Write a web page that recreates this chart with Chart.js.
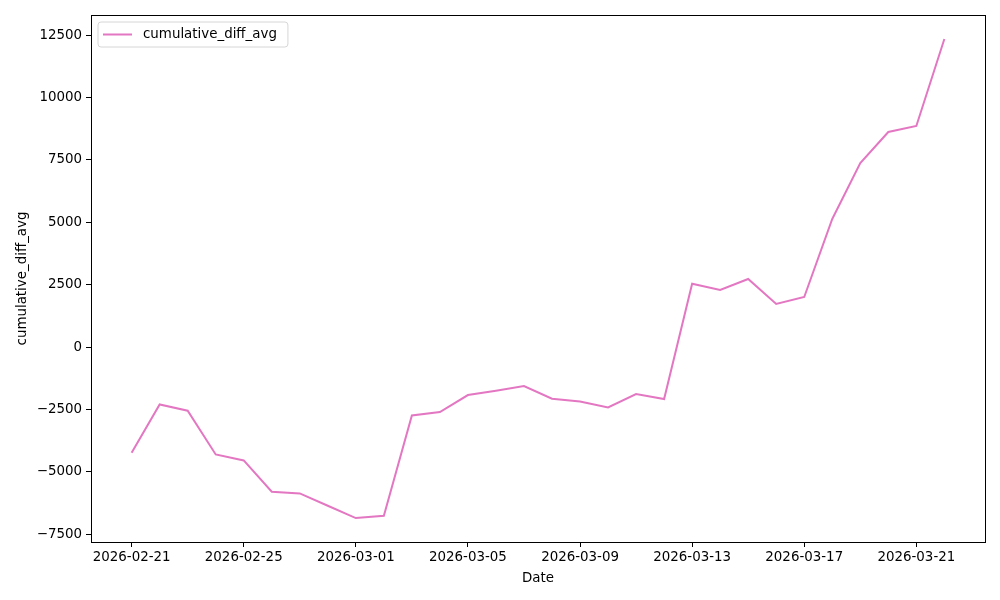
<!DOCTYPE html>
<html>
<head>
<meta charset="utf-8">
<script src="https://cdn.jsdelivr.net/npm/chart.js@4.4.1/dist/chart.umd.min.js"></script>
<style>
html,body{margin:0;padding:0;background:#fff;}
#wrap{width:1000px;height:600px;position:relative;}
</style>
</head>
<body>
<div id="wrap"><canvas id="c" width="1000" height="600"></canvas></div>
<script>
const startDate = '2026-02-21';
const dates = ['2026-02-21','2026-02-22','2026-02-23','2026-02-24','2026-02-25','2026-02-26','2026-02-27','2026-02-28','2026-03-01','2026-03-02','2026-03-03','2026-03-04','2026-03-05','2026-03-06','2026-03-07','2026-03-08','2026-03-09','2026-03-10','2026-03-11','2026-03-12','2026-03-13','2026-03-14','2026-03-15','2026-03-16','2026-03-17','2026-03-18','2026-03-19','2026-03-20','2026-03-21','2026-03-22'];
const cumulativeDiffAvg = [-4239,-2302,-2554,-4307,-4547,-5802,-5871,-6364,-6857,-6765,-2743,-2607,-1925,-1752,-1564,-2073,-2181,-2422,-1885,-2085,2538,2286,2727,1724,2005,5133,7378,8622,8862,12351];
const xTickDates = ['2026-02-21','2026-02-25','2026-03-01','2026-03-05','2026-03-09','2026-03-13','2026-03-17','2026-03-21'];
const yTicks = [-7500,-5000,-2500,0,2500,5000,7500,10000,12500];
const seriesName = 'cumulative_diff_avg';
const xTitle = 'Date';
const yTitle = 'cumulative_diff_avg';

const DAY = 86400000;
const t0 = Date.parse(startDate + 'T00:00:00Z');
const dayIndex = d => (Date.parse(d + 'T00:00:00Z') - t0) / DAY;
const fmt = v => {
  const d = new Date(t0 + Math.round(v) * DAY);
  return d.toISOString().slice(0, 10);
};
const pts = dates.map((d, i) => ({x: dayIndex(d), y: cumulativeDiffAvg[i]}));
const xs = pts.map(p => p.x), ys = pts.map(p => p.y);
const xmin = Math.min(...xs), xmax = Math.max(...xs);
const ymin = Math.min(...ys), ymax = Math.max(...ys);
const xm = (xmax - xmin) * 0.05, ym = (ymax - ymin) * 0.05;

const COLOR = '#e377c2';
const FONT = {family: '"DejaVu Sans", sans-serif', size: 13.4};

const legendPlugin = {
  id: 'innerLegend',
  afterDraw(chart) {
    const ctx = chart.ctx, a = chart.chartArea;
    ctx.save();
    ctx.font = `${FONT.size}px ${FONT.family}`;
    const tw = ctx.measureText(seriesName).width;
    const x = a.left + 7, y = a.top + 7;
    const w = 52 + tw + 4, h = 25;
    ctx.fillStyle = 'rgba(255,255,255,0.8)';
    ctx.strokeStyle = '#d6d6d6';
    ctx.lineWidth = 1;
    const r = 3;
    ctx.beginPath();
    ctx.moveTo(x + r, y);
    ctx.lineTo(x + w - r, y); ctx.quadraticCurveTo(x + w, y, x + w, y + r);
    ctx.lineTo(x + w, y + h - r); ctx.quadraticCurveTo(x + w, y + h, x + w - r, y + h);
    ctx.lineTo(x + r, y + h); ctx.quadraticCurveTo(x, y + h, x, y + h - r);
    ctx.lineTo(x, y + r); ctx.quadraticCurveTo(x, y, x + r, y);
    ctx.closePath();
    ctx.fill(); ctx.stroke();
    ctx.strokeStyle = COLOR; ctx.lineWidth = 2;
    ctx.beginPath();
    ctx.moveTo(x + 5, y + h / 2); ctx.lineTo(x + 34, y + h / 2);
    ctx.stroke();
    ctx.fillStyle = '#000';
    ctx.textBaseline = 'middle';
    ctx.fillText(seriesName, x + 45, y + h / 2 + 0.5);
    ctx.restore();
  }
};

new Chart(document.getElementById('c'), {
  type: 'line',
  data: {
    datasets: [{
      label: seriesName,
      data: pts,
      borderColor: COLOR,
      backgroundColor: COLOR,
      borderWidth: 2,
      pointRadius: 0,
      tension: 0,
      fill: false
    }]
  },
  options: {
    responsive: false,
    animation: false,
    devicePixelRatio: 1,
    layout: {padding: {left: 0, top: 15, right: 15, bottom: 0}},
    plugins: {legend: {display: false}, tooltip: {enabled: false}},
    scales: {
      x: {
        type: 'linear',
        min: xmin - xm,
        max: xmax + xm,
        afterBuildTicks: s => { s.ticks = xTickDates.map(d => ({value: dayIndex(d)})); },
        afterFit: s => { s.height = 58; },
        ticks: {color: '#000', font: FONT, maxRotation: 0, autoSkip: false, padding: 2, callback: v => fmt(v)},
        grid: {display: true, drawOnChartArea: false, drawTicks: true, tickLength: 5, color: '#000', tickColor: '#000'},
        border: {display: true, color: '#000', width: 1},
        title: {display: true, text: xTitle, color: '#000', font: FONT, padding: {top: 0, bottom: 13}}
      },
      y: {
        type: 'linear',
        min: ymin - ym,
        max: ymax + ym,
        afterBuildTicks: s => { s.ticks = yTicks.map(v => ({value: v})); },
        afterFit: s => { s.width = 91; },
        ticks: {color: '#000', font: FONT, padding: 4, callback: v => String(v).replace('-', '\u2212')},
        grid: {display: true, drawOnChartArea: false, drawTicks: true, tickLength: 5, color: '#000', tickColor: '#000'},
        border: {display: true, color: '#000', width: 1},
        title: {display: true, text: yTitle, color: '#000', font: FONT, padding: {top: 14, bottom: 0}}
      }
    }
  },
  plugins: [legendPlugin, {
    id: 'frame',
    afterDraw(chart) {
      const ctx = chart.ctx, a = chart.chartArea;
      ctx.save();
      ctx.strokeStyle = '#000'; ctx.lineWidth = 1;
      ctx.strokeRect(Math.round(a.left) + 0.5, Math.round(a.top) + 0.5, Math.round(a.right - a.left), Math.round(a.bottom - a.top));
      ctx.restore();
    }
  }]
});
</script>
</body>
</html>
